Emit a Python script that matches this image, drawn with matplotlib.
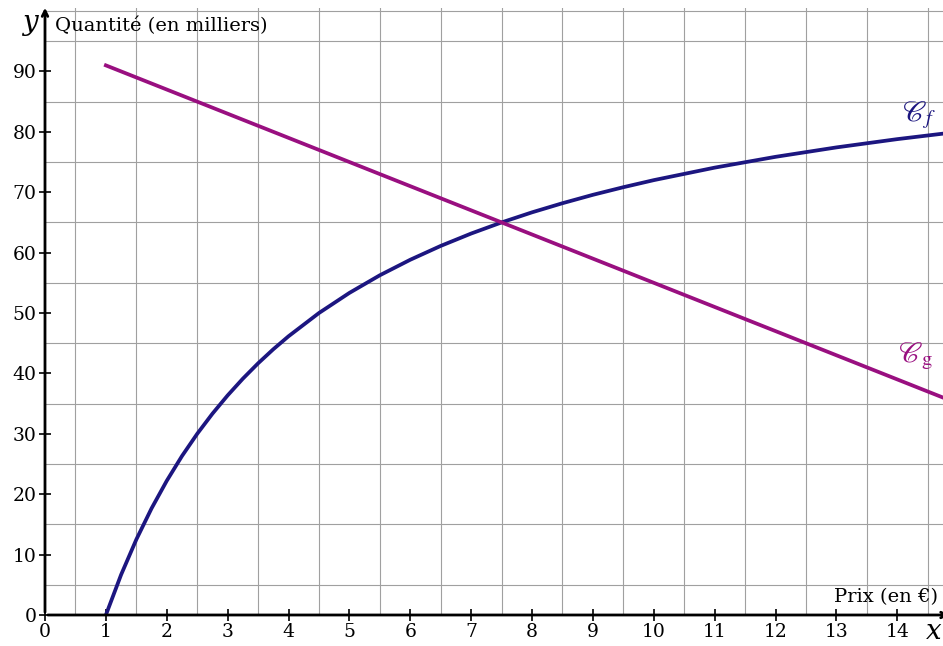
import numpy as np
import matplotlib.pyplot as plt

# prix (en euros) et quantites (en milliers)
x_f = [1, 1.25, 1.5, 1.75, 2, 2.25, 2.5, 2.75, 3, 3.25, 3.5, 3.75, 4, 4.5,
       5, 5.5, 6, 6.5, 7, 7.5, 8, 8.5, 9, 9.5, 10, 11, 12, 13, 14, 15]
y_f = [0, 6.67, 12.5, 17.65, 22.22, 26.32, 30, 33.33, 36.36, 39.13, 41.67,
       44, 46.15, 50, 53.33, 56.25, 58.82, 61.11, 63.16, 65, 66.67, 68.18,
       69.57, 70.83, 72, 74.07, 75.86, 77.42, 78.79, 80]
x_g = [1, 15]
y_g = [91, 35]

x_ticks = list(range(0, 15))
y_ticks = list(range(0, 91, 10))

col_f = '#1c1680'
col_g = '#990f80'

plt.rcParams['font.family'] = 'DejaVu Serif'

fig = plt.figure(figsize=(9.43, 6.46), dpi=100)
ax = fig.add_axes([45 / 943, 31 / 646, 1 - 45 / 943, 607 / 646])
ax.set_xlim(0, 14.75)
ax.set_ylim(0, 100.5)

# quadrillage
ax.set_xticks(np.arange(0, 15, 0.5), minor=True)
ax.set_yticks(np.arange(0, 101, 5), minor=True)
ax.grid(which='minor', color='#a0a0a0', linewidth=0.8)
ax.tick_params(which='minor', length=0)
ax.set_xticks(x_ticks)
ax.set_yticks(y_ticks)
ax.tick_params(which='major', direction='inout', length=8, width=1.2,
               labelsize=13.5, pad=2)
for s in ax.spines.values():
    s.set_visible(False)

# axes avec fleches
ax.annotate('', xy=(14.9, 0), xytext=(0, 0), annotation_clip=False,
            arrowprops=dict(arrowstyle='->', lw=2, color='black'))
ax.annotate('', xy=(0, 101), xytext=(0, 0), annotation_clip=False,
            arrowprops=dict(arrowstyle='->', lw=2, color='black'))

ax.plot(x_f, y_f, color=col_f, lw=2.7, solid_joinstyle='round')
ax.plot(x_g, y_g, color=col_g, lw=2.7, solid_joinstyle='round')

ax.text(14.35, 82.8, r'$\mathscr{C}_f$', color=col_f, fontsize=21,
        math_fontfamily='stix', ha='center', va='center')
ax.text(14.3, 42.8, r'$\mathscr{C}_\mathrm{g}$', color=col_g, fontsize=21,
        math_fontfamily='stix', ha='center', va='center')

ax.text(0.17, 97.6, 'Quantité (en milliers)', fontsize=14, va='center')
ax.text(14.67, 3, 'Prix (en €)', fontsize=14, ha='right', va='center')
ax.text(-0.24, 97.8, r'$y$', fontsize=20, ha='center', va='center',
        math_fontfamily='dejavuserif')
ax.text(14.6, -2.8, r'$x$', fontsize=20, ha='center', va='center',
        math_fontfamily='dejavuserif')

fig.savefig('out.png', dpi=100)
